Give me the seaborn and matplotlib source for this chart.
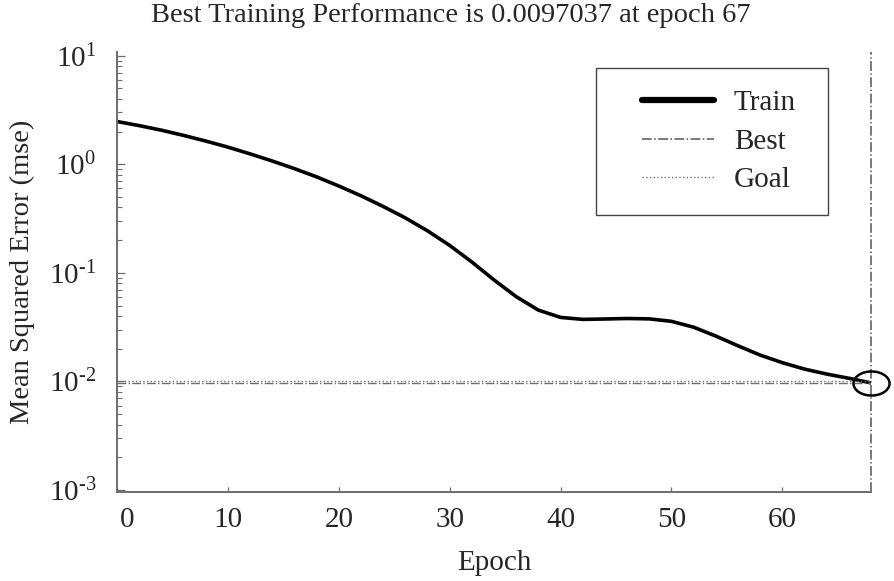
import numpy as np
import pandas as pd
import seaborn as sns
import matplotlib
matplotlib.use("Agg")
import matplotlib.pyplot as plt
from matplotlib.path import Path
from matplotlib.patches import Rectangle
from matplotlib.ticker import LogLocator, NullFormatter, FixedLocator
from matplotlib.transforms import ScaledTranslation

# ---- data ----
epochs = [0, 2, 4, 6, 8, 10, 12, 14, 16, 18, 20, 22, 24, 26, 28, 30, 32, 34,
          36, 38, 40, 42, 44, 46, 48, 50, 52, 54, 56, 58, 60, 62, 64, 66, 68]
train_mse = [2.477, 2.270, 2.061, 1.845, 1.637, 1.439, 1.247, 1.072, 0.912,
             0.766, 0.631, 0.513, 0.409, 0.321, 0.244, 0.179, 0.126, 0.0861,
             0.0604, 0.0454, 0.0389, 0.0373, 0.0376, 0.0380, 0.0377, 0.0358,
             0.0316, 0.0262, 0.0213, 0.0175, 0.0149, 0.0130, 0.0117, 0.0107,
             0.0097]
best_perf = 0.0097037
best_label_epoch = 67
goal = 0.01
x_ticks = [0, 10, 20, 30, 40, 50, 60]
y_ticks = [1e-3, 1e-2, 1e-1, 1e0, 1e1]
y_tick_labels = ["10$^{\u2010 3}$", "10$^{\u2010 2}$", "10$^{\u2010 1}$",
                 "10$^{0}$", "10$^{1}$"]
legend_labels = ["Train", "Best", "Goal"]
title = f"Best Training Performance is {best_perf:.7f} at epoch {best_label_epoch}"

sns.set_theme(style="white")
plt.rcParams["font.family"] = ["Liberation Serif", "DejaVu Serif"]
plt.rcParams["mathtext.fontset"] = "custom"
plt.rcParams["mathtext.rm"] = "Liberation Serif"
plt.rcParams["mathtext.it"] = "Liberation Serif"
plt.rcParams["mathtext.default"] = "regular"

FS = 21
GRAY = "#6e6e6e"

fig = plt.figure(figsize=(8.94, 5.81), dpi=100)
ax = fig.add_axes([117 / 894, 89 / 581, 754 / 894, 440 / 581])

df = pd.DataFrame({"Epoch": epochs, "MSE": train_mse})
sns.lineplot(data=df, x="Epoch", y="MSE", ax=ax, color="black", lw=2.6,
             label=legend_labels[0], legend=False)
ax.get_lines()[0].set_solid_joinstyle("round")

best_x = epochs[-1]
ax.axvline(best_x, color="#555555", lw=1.1, ls="-.", label=legend_labels[1],
           clip_on=False)
ax.axhline(best_perf, color=GRAY, lw=1.0, ls="-.")
ax.axhline(goal, color=GRAY, lw=1.0, ls=":", label=legend_labels[2])

# elliptical open circle marker at the best point
t = np.linspace(0, 2 * np.pi, 60)
ell = Path(np.column_stack([1.5 * np.cos(t), np.sin(t)]), closed=True)
ax.plot([best_x], [best_perf], marker=ell, ms=26, mfc="none", mec="black",
        mew=1.8, ls="none", clip_on=False, zorder=5)

ax.set_yscale("log")
ax.set_xlim(0, 68)
ax.set_ylim(10 ** -3.018, 10 ** 1.034)
ax.xaxis.set_major_locator(FixedLocator(x_ticks))
ax.yaxis.set_major_locator(FixedLocator(y_ticks))
ax.set_yticklabels(y_tick_labels)
ax.yaxis.set_minor_locator(LogLocator(base=10, subs=np.arange(2, 10), numticks=20))
ax.yaxis.set_minor_formatter(NullFormatter())

for s in ["top", "right"]:
    ax.spines[s].set_visible(False)
for s in ["left", "bottom"]:
    ax.spines[s].set_color(GRAY)
    ax.spines[s].set_linewidth(1.4)

ax.tick_params(axis="y", which="major", direction="in", length=5.5, width=0.9,
               color=GRAY, labelsize=FS, pad=15, left=True)
ax.tick_params(axis="y", which="minor", direction="in", length=3.5, width=0.8,
               color=GRAY, left=True)
ax.tick_params(axis="x", which="major", direction="in", length=3.5, width=0.9,
               color=GRAY, labelsize=FS, pad=11, bottom=True)

# the "0" label sits a little right of its tick in the reference
lbl0 = ax.get_xticklabels()[0]
lbl0.set_transform(lbl0.get_transform() + ScaledTranslation(0.1, 0, fig.dpi_scale_trans))

ax.set_xlabel("Epoch", fontsize=FS, labelpad=12)
ax.set_ylabel("Mean Squared Error (mse)", fontsize=20.5, labelpad=10)
fig.text(451 / 894, 1 - 16 / 581, title, fontsize=20.5, ha="center", va="center")

leg = ax.legend(loc="upper right", bbox_to_anchor=(0.9297, 0.964), fontsize=FS,
                frameon=False, handlelength=2.45, handletextpad=0.7,
                labelspacing=0.42, borderpad=0.75, borderaxespad=0)
leg.get_lines()[0].set_linewidth(4.5)

# legend frame with the asymmetric margins of the reference
fig.canvas.draw()
bb = leg.get_window_extent().transformed(fig.transFigure.inverted())
extra_l = 24 / 894
extra_r = 10 / 894
fig.patches.append(Rectangle((bb.x0 - extra_l, bb.y0),
                             bb.width + extra_l + extra_r, bb.height,
                             transform=fig.transFigure, fill=False,
                             edgecolor="#444444", lw=1.0, zorder=3))

fig.savefig("out.png", dpi=100, facecolor="white")
